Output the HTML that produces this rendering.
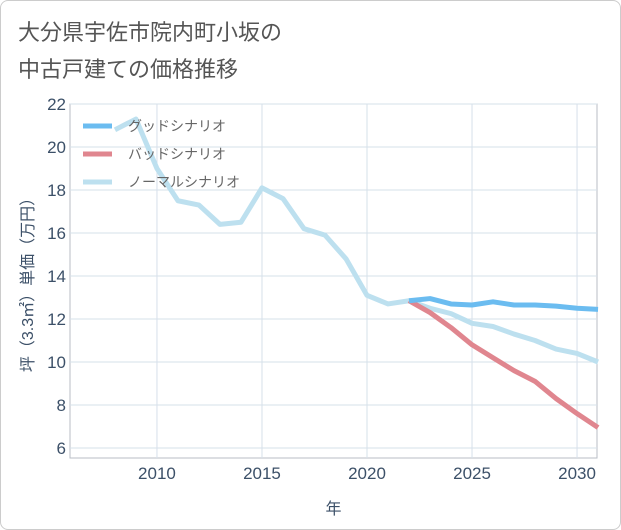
<!DOCTYPE html>
<html><head><meta charset="utf-8"><style>
body{margin:0;background:#fff;font-family:"Liberation Sans","Noto Sans CJK JP",sans-serif;}
#wrap{position:relative;width:619px;height:528px;border:1px solid #ccc;border-radius:8px;background:#fff;overflow:hidden}
</style></head><body>
<div id="wrap">
<svg id="chart" width="621" height="530" style="position:absolute;left:-1px;top:-1px">
<text x="18" y="40" font-size="22" fill="#555">大分県宇佐市院内町小坂の</text>
<text x="18" y="77" font-size="22" fill="#555">中古戸建ての価格推移</text>
</svg>
</div>
<script>
const years=[2008,2009,2010,2011,2012,2013,2014,2015,2016,2017,2018,2019,2020,2021,2022,2023,2024,2025,2026,2027,2028,2029,2030,2031];
const normal=[20.8,21.3,19.0,17.5,17.3,16.4,16.5,18.1,17.6,16.2,15.9,14.8,13.1,12.7,12.85,12.5,12.25,11.8,11.65,11.3,11.0,10.6,10.4,10.0];
const fYears=[2022,2023,2024,2025,2026,2027,2028,2029,2030,2031];
const good=[12.85,12.95,12.7,12.65,12.8,12.65,12.65,12.6,12.5,12.45];
const bad=[12.85,12.3,11.6,10.8,10.2,9.6,9.1,8.3,7.6,6.95];
const xTicks=[2010,2015,2020,2025,2030];
const yTicks=[6,8,10,12,14,16,18,20,22];
const L=70,R=597,T=104,B=458;
const x=v=>L+(v-2005.86)/(2030.95-2005.86)*(R-L);
const y=v=>104+(22-v)*21.5;
const svg=document.getElementById('chart');const NS='http://www.w3.org/2000/svg';
function mk(t,a,p){const e=document.createElementNS(NS,t);for(const k in a)e.setAttribute(k,a[k]);(p||svg).appendChild(e);return e;}
const TC='#3c5068';
const bg=mk('rect',{x:L,y:T,width:R-L,height:B-T,fill:'#fff',stroke:'#b8bec6'});


xTicks.forEach(v=>{const g=mk('line',{x1:x(v),x2:x(v),y1:T,y2:B,stroke:'#d6e0ea'});


const t=mk('text',{x:x(v),y:B+21,'text-anchor':'middle','font-size':17,fill:TC});t.textContent=v;

});
yTicks.forEach(v=>{const g=mk('line',{x1:L,x2:R,y1:y(v),y2:y(v),stroke:'#d6e0ea'});


const t=mk('text',{x:L-4,y:y(v)+6,'text-anchor':'end','font-size':17,fill:TC});t.textContent=v;

});
const xt=mk('text',{x:(L+R)/2,y:514,'text-anchor':'middle','font-size':16,fill:TC});xt.textContent='年';


const yt=mk('text',{x:0,y:0,'text-anchor':'middle','font-size':16,fill:TC,transform:'translate(33,281) rotate(-90)'});yt.textContent='坪（3.3㎡）単価（万円）';


function line(xs,vs,c,name){const p=mk('polyline',{points:xs.map((v,i)=>x(v)+','+y(vs[i])).join(' '),fill:'none',stroke:c,'stroke-width':5,'stroke-linejoin':'round'});

}
line(years,normal,'#bde0ef','normal-series-line');
line(fYears,bad,'#e0868f','bad-series-line');
line(fYears,good,'#6bbcf0','good-series-line');
const leg=[['グッドシナリオ','#6bbcf0'],['バッドシナリオ','#e0868f'],['ノーマルシナリオ','#bde0ef']];
leg.forEach((d,i)=>{const yy=126+i*28;const l=mk('line',{x1:83,x2:112,y1:yy,y2:yy,stroke:d[1],'stroke-width':5});


const t=mk('text',{x:128,y:yy+5,'font-size':14,fill:'#666'});t.textContent=d[0];

});
</script>
</body></html>
